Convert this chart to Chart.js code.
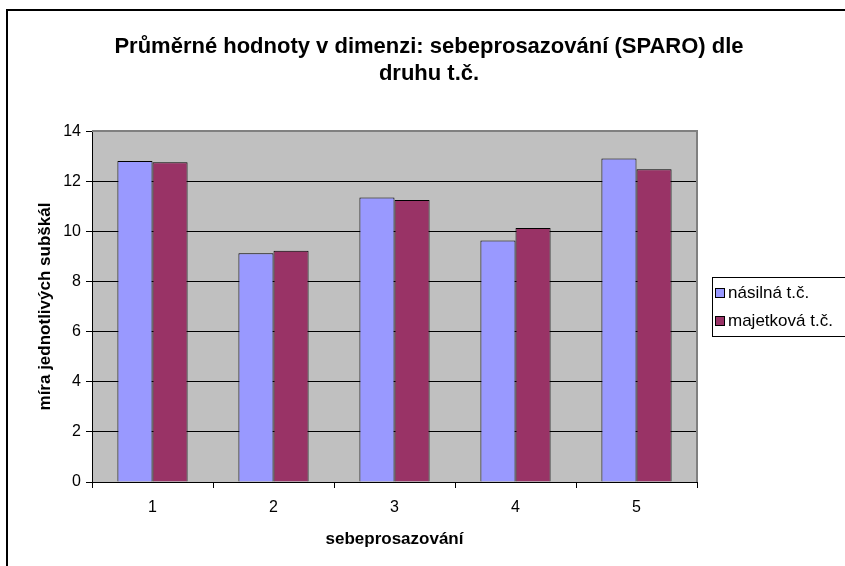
<!DOCTYPE html>
<html>
<head>
<meta charset="utf-8">
<script src="https://cdn.jsdelivr.net/npm/chart.js@4"></script>
<style>
  body { margin: 0; background: #fff; }
  #wrap { position: relative; width: 845px; height: 566px; overflow: hidden; }
  #frame { position: absolute; left: 6px; top: 9px; width: 900px; height: 600px;
           border-left: 2px solid #000; border-top: 2px solid #000; pointer-events: none; }
</style>
</head>
<body>
<div id="wrap">
  <canvas id="chart" width="845" height="566"></canvas>
  <div id="frame"></div>
</div>
<script>
// data
const categories = ['1', '2', '3', '4', '5'];
const nasilna = [12.81, 9.13, 11.35, 9.64, 12.91];
const majetkova = [12.76, 9.23, 11.25, 10.13, 12.48];
const seriesNames = ['násilná t.č.', 'majetková t.č.'];
const titleLines = ['Průměrné hodnoty v dimenzi: sebeprosazování (SPARO) dle', 'druhu t.č.'];

const FONT = '"Liberation Sans", Arial, sans-serif';

// gray plot area like old Excel
const plotBack = {
    id: 'plotBack',
    beforeDraw(chart) {
        let a = chart.chartArea, ctx = chart.ctx;
        ctx.save();
        ctx.fillStyle = '#c0c0c0';
        ctx.fillRect(a.left, a.top, a.right - a.left, a.bottom - a.top);
        ctx.restore();
    },
    afterDatasetsDraw(chart) {
        let a = chart.chartArea, ctx = chart.ctx;
        ctx.save();
        ctx.strokeStyle = '#808080';
        ctx.lineWidth = 2;
        ctx.beginPath();
        ctx.moveTo(a.left, a.top);
        ctx.lineTo(a.right, a.top);
        ctx.lineTo(a.right, a.bottom);
        ctx.stroke();
        ctx.restore();
    }
};

// legend box that sticks out past the right edge
const boxLegend = {
    id: 'boxLegend',
    afterDraw(chart) {
        let ctx = chart.ctx;
        let x = 712, y = 277, w = 150, h = 59;
        ctx.save();
        ctx.fillStyle = '#fff';
        ctx.fillRect(x, y, w, h);
        ctx.strokeStyle = '#000';
        ctx.lineWidth = 1;
        ctx.strokeRect(x + 0.5, y + 0.5, w, h);
        ctx.font = '17px ' + FONT;
        ctx.textBaseline = 'middle';
        chart.data.datasets.forEach((ds, i) => {
            let cy = y + 16 + i * 28;
            ctx.fillStyle = ds.backgroundColor;
            ctx.fillRect(x + 3.5, cy - 4.5, 9, 9);
            ctx.strokeStyle = '#000';
            ctx.strokeRect(x + 3.5, cy - 4.5, 9, 9);
            ctx.fillStyle = '#000';
            ctx.fillText(ds.label, x + 16, cy);
        });
        ctx.restore();
    }
};

new Chart(document.getElementById('chart').getContext('2d'), {
    type: 'bar',
    data: {
        labels: categories,
        datasets: [
            { label: seriesNames[0], data: nasilna, backgroundColor: '#9999ff', borderColor: '#000', borderWidth: 1 },
            { label: seriesNames[1], data: majetkova, backgroundColor: '#993366', borderColor: '#000', borderWidth: 1 }
        ]
    },
    options: {
        responsive: false,
        animation: false,
        layout: { padding: { left: 13, right: 0, top: 0, bottom: 0 } },
        datasets: { bar: { categoryPercentage: 0.58, barPercentage: 1 } },
        plugins: {
            legend: { display: false },
            tooltip: { enabled: false },
            title: {
                display: true,
                text: titleLines,
                color: '#000',
                font: { family: FONT, size: 22, weight: 'bold', lineHeight: 1.23 },
                padding: { top: 33, bottom: 44 }
            }
        },
        scales: {
            x: {
                grid: { drawOnChartArea: false, drawTicks: true, tickLength: 6, color: '#000', offset: true },
                border: { color: '#000', width: 1 },
                ticks: { color: '#000', font: { family: FONT, size: 16 }, padding: 10 },
                title: { display: true, text: 'sebeprosazování', color: '#000',
                         font: { family: FONT, size: 17, weight: 'bold' }, padding: { top: 0, bottom: 16 } },
                afterFit(s) { s.height = 84; }
            },
            y: {
                min: 0, max: 14,
                ticks: { stepSize: 2, color: '#000', font: { family: FONT, size: 16 }, padding: 5 },
                grid: { color: '#000', tickLength: 6 },
                border: { color: '#000', width: 1 },
                title: { display: true, text: 'míra jednotlivých subškál', color: '#000',
                         font: { family: FONT, size: 17, weight: 'bold' }, padding: { top: 22, bottom: 0 } },
                afterFit(s) { s.width = 79; }
            },
            y2: {
                position: 'right',
                grid: { display: false },
                border: { display: false },
                ticks: { display: false },
                afterFit(s) { s.width = 148; }
            }
        }
    },
    plugins: [plotBack, boxLegend]
});
</script>
</body>
</html>
